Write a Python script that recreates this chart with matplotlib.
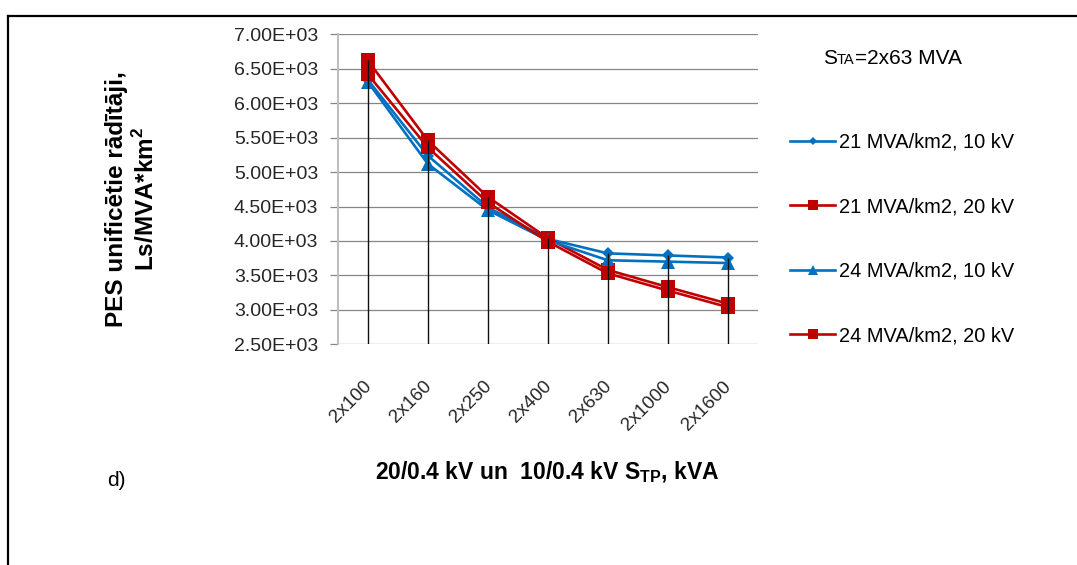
import matplotlib
matplotlib.use("Agg")
import matplotlib.pyplot as plt
from matplotlib.lines import Line2D
from matplotlib.ticker import FuncFormatter, MultipleLocator
from matplotlib.transforms import ScaledTranslation

plt.rcParams["font.family"] = ["Liberation Sans", "DejaVu Sans"]
plt.rcParams["mathtext.fontset"] = "custom"
plt.rcParams["mathtext.rm"] = "Liberation Sans"
plt.rcParams["mathtext.bf"] = "Liberation Sans:bold"

# transformer sizes (two transformers per substation)
categories = ["2x100", "2x160", "2x250", "2x400", "2x630", "2x1000", "2x1600"]

# unified cost indicator, Ls/(MVA*km2)
s21_10kv = [6340, 5240, 4490, 4030, 3820, 3790, 3760]
s21_20kv = [6620, 5460, 4640, 4040, 3580, 3330, 3090]
s24_10kv = [6310, 5120, 4450, 4010, 3720, 3700, 3680]
s24_20kv = [6420, 5360, 4560, 3990, 3530, 3280, 3040]

series_labels = ["21 MVA/km2, 10 kV", "21 MVA/km2, 20 kV",
                 "24 MVA/km2, 10 kV", "24 MVA/km2, 20 kV"]

BLUE = "#0070C0"
RED = "#C00000"

fig = plt.figure(figsize=(10.77, 5.65), dpi=100)
ax = fig.add_axes([0.3136, 0.3906, 0.3900, 0.5487])

x = list(range(len(categories)))
styles = [
    (s21_10kv, BLUE, "D", 6),
    (s21_20kv, RED, "s", 10),
    (s24_10kv, BLUE, "^", 10),
    (s24_20kv, RED, "s", 10),
]
handles = []
for (vals, col, mk, ms), lab in zip(styles, series_labels):
    h, = ax.plot(x, vals, color=col, lw=1.9, marker=mk, ms=ms,
                 markeredgewidth=0, label=lab, zorder=3)
    handles.append(h)

# drop lines from the highest series down to the category axis
tops = [max(v) for v in zip(s21_10kv, s21_20kv, s24_10kv, s24_20kv)]
ax.vlines(x, 2500, tops, color="#111111", lw=1.0, zorder=4)

ax.set_xlim(-0.5, len(categories) - 0.5)
ax.set_ylim(2500, 7000)
ax.yaxis.set_major_locator(MultipleLocator(500))
ax.yaxis.set_major_formatter(FuncFormatter(lambda v, _: f"{v / 1000:.2f}E+03"))
ax.grid(axis="y", color="#868686", lw=0.9, zorder=1)
ax.set_axisbelow(True)

for side in ("top", "right", "bottom"):
    ax.spines[side].set_visible(False)
ax.spines["left"].set_color("#bfbfbf")
ax.spines["left"].set_linewidth(1.5)

ax.tick_params(axis="y", length=6, width=0.9, color="#868686",
               labelsize=14, labelcolor="#262626", pad=8)
ax.set_xticks(x)
ax.set_xticklabels(categories, rotation=45, ha="right", va="top",
                   rotation_mode="anchor", fontsize=13.5, color="#262626")
ax.tick_params(axis="x", length=0, pad=24)
shift = ScaledTranslation(-5 / 100, 0, fig.dpi_scale_trans)
for lbl in ax.get_xticklabels():
    lbl.set_transform(lbl.get_transform() + shift)

# axis titles
fig.text(116 / 1077, 1 - 199 / 565, "PES unificētie rādītāji,",
         rotation=90, ha="center", va="center", fontsize=17.5, fontweight="bold")
fig.text(146 / 1077, 1 - 199 / 565, r"Ls/MVA*km$^\mathbf{2}$",
         rotation=90, ha="center", va="center", fontsize=17.5, fontweight="bold")
fig.text(547 / 1077, 1 - 472 / 565,
         r"20/0.4 kV un  10/0.4 kV $\mathbf{S_{TP}}$, kVA",
         ha="center", va="center", fontsize=16.5, fontweight="bold")
fig.text(116 / 1077, 1 - 481 / 565, "d)", ha="center", va="center", fontsize=15)

# substation rating note: S with small "TA" sitting on the baseline
renderer = fig.canvas.get_renderer()
base_y = 1 - 64 / 565
xpos = 823 / 1077
for part, size in (("S", 15), ("TA", 10.5), ("=2x63 MVA", 15)):
    t = fig.text(xpos, base_y, part, ha="left", va="baseline", fontsize=size)
    bb = t.get_window_extent(renderer)
    xpos += bb.width / fig.bbox.width

leg = fig.legend(handles=handles, loc="upper left",
                 bbox_to_anchor=(790 / 1077, 1 - 133 / 565),
                 frameon=False, fontsize=14.4, handlelength=2.25,
                 handletextpad=0.2, labelspacing=2.27, markerscale=0.7,
                 borderaxespad=0, borderpad=0)

# outer frame (top and left edges)
fig.add_artist(Line2D([8 / 1077, 1.0], [1 - 16 / 565, 1 - 16 / 565],
                      transform=fig.transFigure, color="black", lw=1.6))
fig.add_artist(Line2D([8 / 1077, 8 / 1077], [1 - 16 / 565, 0.0],
                      transform=fig.transFigure, color="black", lw=1.6))

fig.savefig("out.png", dpi=100)
